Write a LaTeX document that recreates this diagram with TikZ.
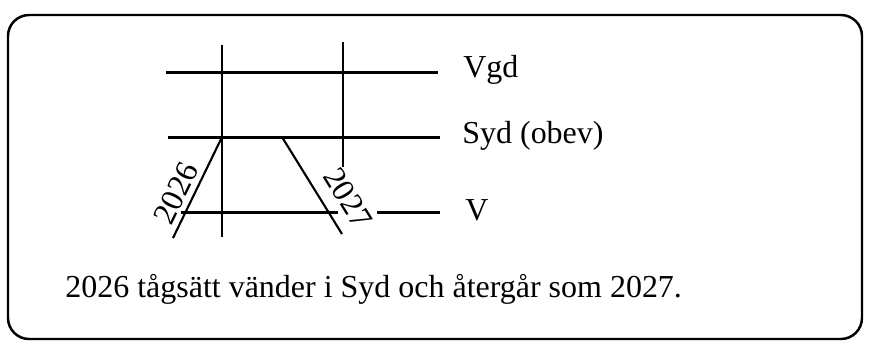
\documentclass[tikz,border=0pt]{standalone}
\usepackage{fontspec}
\setmainfont{Liberation Serif}

\begin{document}
\begin{tikzpicture}[
  x=0.02cm, y=-0.02cm,
  font=\fontsize{18.2}{21}\selectfont,
  frame/.style={draw=black, line width=1.4pt, rounded corners=12pt},
  track/.style={draw=black, line width=1.7pt},
  post/.style={draw=black, line width=0.9pt},
  turn/.style={draw=black, line width=1.2pt},
  lbl/.style={anchor=base west, inner sep=0pt},
  yearlbl/.style={sloped, above, inner sep=3pt},
]

% --- fixed bounding box (white background) ---
\fill[white] (0,0) rectangle (870,343);
\useasboundingbox (0,0) rectangle (870,343);

% --- outer frame ---
\draw[frame] (8,15) rectangle (862,339);

% ============================ POINTS ================================
% track ends
\coordinate (vgdW) at (166,72);   \coordinate (vgdE) at (438,72);
\coordinate (sydW) at (168,137);  \coordinate (sydE) at (440,137);
\coordinate (vW)   at (181,212);  \coordinate (vGapW) at (338,212);
\coordinate (vGapE) at (377,212); \coordinate (vE)   at (440,212);
% vertical posts
\coordinate (p1T) at (222,45);    \coordinate (p1B) at (222,237);
\coordinate (p2T) at (343,42);    \coordinate (p2B) at (343,167);
% turning moves
\coordinate (t26B) at (173,238);  \coordinate (t26T) at (222,137);
\coordinate (t27T) at (282,137);  \coordinate (t27B) at (342,234);

% ============================ LINES =================================
\draw[track] (vgdW) -- (vgdE);
\draw[track] (sydW) -- (sydE);
\draw[track] (vW) -- (vGapW);
\draw[track] (vGapE) -- (vE);

\draw[post] (p1T) -- (p1B);
\draw[post] (p2T) -- (p2B);

% 2026 runs up into Syd, returns down as 2027
\draw[turn] (t26B) -- node[yearlbl, pos=0.37] (lbl26) {2026} (t26T);
\draw[turn] (t27T) -- node[yearlbl, pos=0.76, inner sep=7pt] (lbl27) {2027} (t27B);

% ============================ LABELS ================================
\node[lbl] (vgd) at (463,77)  {Vgd};
\node[lbl] (syd) at (462,143) {Syd (obev)};
\node[lbl] (vv)  at (465,220) {V};

\node[lbl] (note) at (65,297) {2026 tågsätt vänder i Syd och återgår som 2027.};

\end{tikzpicture}
\end{document}
